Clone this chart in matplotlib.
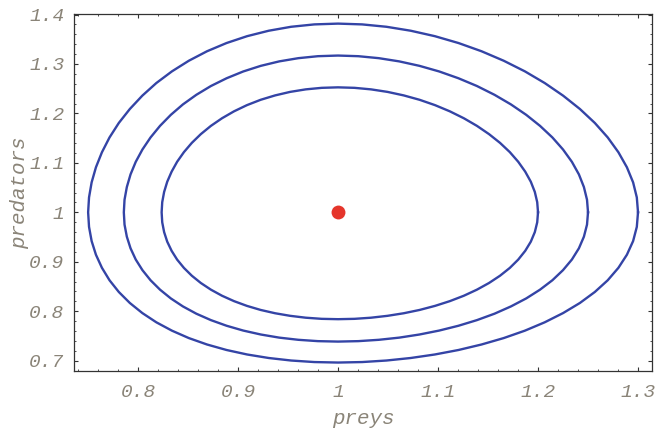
import matplotlib
matplotlib.use("Agg")
import matplotlib.pyplot as plt
import numpy as np
from matplotlib.ticker import MultipleLocator, FixedLocator, FixedFormatter

# three closed orbits, each one kept as four half-branches
# sampled at the same 19 steps from the extreme point towards the centre line:
#   *_right_x / *_left_x  : preys on the right / left half
#   *_upper_y / *_lower_y : predators on the upper / lower half
inner_right_x = [1.2000, 1.1992, 1.1968, 1.1928, 1.1872, 1.1802, 1.1718, 1.1620, 1.1510, 1.1389,
                 1.1258, 1.1118, 1.0970, 1.0816, 1.0657, 1.0495, 1.0330, 1.0165, 1.0000]
inner_left_x = [0.8236, 0.8242, 0.8261, 0.8292, 0.8336, 0.8391, 0.8459, 0.8538, 0.8628, 0.8729,
                0.8840, 0.8960, 0.9089, 0.9226, 0.9371, 0.9521, 0.9677, 0.9837, 1.0000]
inner_upper_y = [1.2527, 1.2517, 1.2486, 1.2435, 1.2364, 1.2275, 1.2167, 1.2042, 1.1902, 1.1748,
                 1.1581, 1.1404, 1.1217, 1.1022, 1.0822, 1.0618, 1.0412, 1.0205, 1.0000]
inner_lower_y = [0.7838, 0.7845, 0.7868, 0.7906, 0.7958, 0.8025, 0.8107, 0.8203, 0.8312, 0.8435,
                 0.8570, 0.8717, 0.8875, 0.9043, 0.9220, 0.9406, 0.9599, 0.9797, 1.0000]

mid_right_x = [1.2500, 1.2490, 1.2459, 1.2409, 1.2339, 1.2250, 1.2144, 1.2020, 1.1882, 1.1729,
               1.1565, 1.1389, 1.1204, 1.1012, 1.0814, 1.0612, 1.0408, 1.0203, 1.0000]
mid_left_x = [0.7858, 0.7865, 0.7888, 0.7925, 0.7977, 0.8044, 0.8125, 0.8220, 0.8328, 0.8449,
              0.8583, 0.8729, 0.8886, 0.9052, 0.9228, 0.9412, 0.9603, 0.9799, 1.0000]
mid_upper_y = [1.3170, 1.3157, 1.3117, 1.3052, 1.2962, 1.2848, 1.2711, 1.2554, 1.2376, 1.2182,
               1.1971, 1.1748, 1.1513, 1.1270, 1.1020, 1.0766, 1.0510, 1.0254, 1.0000]
mid_lower_y = [0.7385, 0.7394, 0.7421, 0.7465, 0.7528, 0.7608, 0.7705, 0.7819, 0.7949, 0.8096,
               0.8258, 0.8435, 0.8626, 0.8830, 0.9045, 0.9272, 0.9507, 0.9751, 1.0000]

outer_right_x = [1.3000, 1.2988, 1.2951, 1.2889, 1.2804, 1.2697, 1.2568, 1.2419, 1.2251, 1.2067,
                 1.1869, 1.1657, 1.1435, 1.1205, 1.0968, 1.0727, 1.0484, 1.0241, 1.0000]
outer_left_x = [0.7501, 0.7510, 0.7536, 0.7579, 0.7639, 0.7715, 0.7808, 0.7918, 0.8043, 0.8183,
                0.8339, 0.8508, 0.8690, 0.8885, 0.9091, 0.9307, 0.9531, 0.9763, 1.0000]
outer_upper_y = [1.3816, 1.3800, 1.3752, 1.3672, 1.3562, 1.3423, 1.3257, 1.3065, 1.2850, 1.2614,
                 1.2359, 1.2089, 1.1807, 1.1514, 1.1214, 1.0910, 1.0605, 1.0301, 1.0000]
outer_lower_y = [0.6961, 0.6971, 0.7002, 0.7053, 0.7124, 0.7215, 0.7326, 0.7456, 0.7606, 0.7775,
                 0.7962, 0.8166, 0.8388, 0.8625, 0.8877, 0.9142, 0.9418, 0.9705, 1.0000]

# equilibrium point
eq_x, eq_y = 1.0, 1.0

x_ticks = [0.8, 0.9, 1.0, 1.1, 1.2, 1.3]
x_ticklabels = ["0.8", "0.9", "1", "1.1", "1.2", "1.3"]
y_ticks = [0.7, 0.8, 0.9, 1.0, 1.1, 1.2, 1.3, 1.4]
y_ticklabels = ["0.7", "0.8", "0.9", "1", "1.1", "1.2", "1.3", "1.4"]


def closed_orbit(right_x, left_x, upper_y, lower_y):
  # walk round anticlockwise, one quadrant at a time
  xp, xm = np.asarray(right_x), np.asarray(left_x)
  yp, ym = np.asarray(upper_y), np.asarray(lower_y)
  x = np.concatenate([xp, xm[::-1][1:], xm[1:], xp[::-1][1:]])
  y = np.concatenate([yp[::-1], yp[1:], ym[::-1][1:], ym[1:]])
  return x, y


txt_color = "#8a8478"
font = {"family": "Liberation Mono", "style": "italic", "color": txt_color}

fig = plt.figure(figsize=(6.61, 4.30), dpi=100)
ax = fig.add_axes([0.1120, 0.1372, 0.8744, 0.8302])

orbits = [(inner_right_x, inner_left_x, inner_upper_y, inner_lower_y),
          (mid_right_x, mid_left_x, mid_upper_y, mid_lower_y),
          (outer_right_x, outer_left_x, outer_upper_y, outer_lower_y)]
for orb in orbits:
  ox, oy = closed_orbit(*orb)
  ax.plot(ox, oy, color="#3444a6", lw=1.7, solid_joinstyle="round")

ax.plot([eq_x], [eq_y], "o", color="#e5352b", markersize=10, markeredgewidth=0)

ax.set_xlim(0.736, 1.314)
ax.set_ylim(0.679, 1.401)

ax.xaxis.set_major_locator(FixedLocator(x_ticks))
ax.xaxis.set_major_formatter(FixedFormatter(x_ticklabels))
ax.yaxis.set_major_locator(FixedLocator(y_ticks))
ax.yaxis.set_major_formatter(FixedFormatter(y_ticklabels))
ax.xaxis.set_minor_locator(MultipleLocator(0.02))
ax.yaxis.set_minor_locator(MultipleLocator(0.02))

ax.tick_params(which="both", direction="in", top=True, right=True, color="#333333")
ax.tick_params(which="major", length=3.2, width=0.8)
ax.tick_params(which="minor", length=1.7, width=0.6)
ax.tick_params(axis="x", which="major", pad=9)
ax.tick_params(axis="y", which="major", pad=7)

for lab in ax.get_xticklabels() + ax.get_yticklabels():
  lab.set_fontfamily("Liberation Mono")
  lab.set_fontstyle("italic")
  lab.set_color(txt_color)
  lab.set_fontsize(14)

for sp in ax.spines.values():
  sp.set_color("#333333")
  sp.set_linewidth(0.9)

ax.set_xlabel("preys", fontsize=15, labelpad=6, **font)
ax.set_ylabel("predators", fontsize=15, labelpad=0, **font)

fig.savefig("out.png", dpi=100)
